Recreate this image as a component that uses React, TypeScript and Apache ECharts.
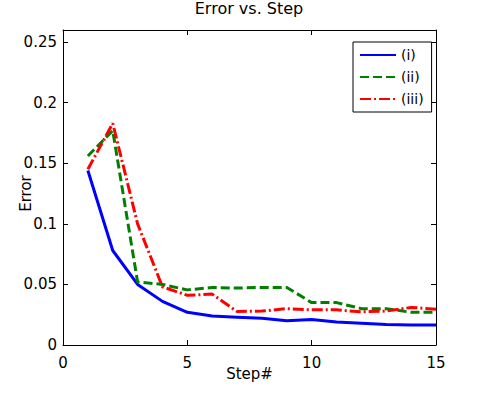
import React, { useEffect, useRef } from "react";
import * as echarts from "echarts";

const steps = [1, 2, 3, 4, 5, 6, 7, 8, 9, 10, 11, 12, 13, 14, 15];
const seriesI = [0.144, 0.078, 0.05, 0.036, 0.027, 0.024, 0.023, 0.022, 0.02, 0.021, 0.019, 0.018, 0.017, 0.0165, 0.0165];
const seriesII = [0.156, 0.177, 0.052, 0.05, 0.0455, 0.0475, 0.047, 0.0475, 0.0475, 0.035, 0.035, 0.03, 0.03, 0.027, 0.027];
const seriesIII = [0.145, 0.183, 0.1, 0.048, 0.041, 0.042, 0.0276, 0.028, 0.03, 0.029, 0.029, 0.0274, 0.028, 0.031, 0.0296];
const names = ["(i)", "(ii)", "(iii)"];

const FONT = "DejaVu Sans, Liberation Sans, Arial, sans-serif";

export default function App() {
  const ref = useRef<HTMLDivElement>(null);
  useEffect(() => {
    if (!ref.current) return;
    const chart = echarts.init(ref.current, undefined, { renderer: "svg" });
    const mk = (arr: number[]) => steps.map((s, i) => [s, arr[i]]);
    const lineBase = {
      type: "line",
      showSymbol: false,
      symbol: "none",
      xAxisIndex: 0,
      yAxisIndex: 0,
    };
    const boxAxisLine = { show: true, onZero: false, lineStyle: { color: "#000", width: 1 } };
    const boxTick = { show: true, inside: true, length: 5, lineStyle: { color: "#000" } };
    chart.setOption({
      animation: false,
      backgroundColor: "#ffffff",
      title: {
        text: "Error vs. Step",
        left: 244,
        textAlign: "center",
        top: 0,
        padding: [0, 5, 5, 5],
        textStyle: { fontFamily: FONT, fontSize: 16, fontWeight: "normal", color: "#000" },
      },
      grid: { left: 63, right: 46, top: 30, bottom: 50, outerBoundsMode: "none", containLabel: false },
      legend: {
        data: names,
        orient: "vertical",
        left: 353,
        top: 42,
        width: 71,
        padding: [6, 8, 6, 6],
        itemGap: 8,
        itemWidth: 36,
        itemHeight: 14,
        borderColor: "#000",
        borderWidth: 1,
        borderRadius: 0,
        backgroundColor: "#fff",
        itemStyle: { opacity: 0, borderWidth: 0 },
        textStyle: { fontFamily: FONT, fontSize: 14, color: "#000" },
      },
      xAxis: [
        {
          type: "value",
          min: 0,
          max: 15,
          interval: 5,
          axisLine: boxAxisLine,
          axisTick: boxTick,
          axisLabel: { color: "#000", fontFamily: FONT, fontSize: 15, margin: 10 },
          splitLine: { show: false },
          name: "Step#",
          nameLocation: "middle",
          nameGap: 21,
          nameMoveOverlap: false,
          nameTextStyle: { fontFamily: FONT, fontSize: 15, color: "#000" },
        },
        {
          type: "value",
          position: "top",
          min: 0,
          max: 15,
          interval: 5,
          axisLine: boxAxisLine,
          axisTick: boxTick,
          axisLabel: { show: false },
          splitLine: { show: false },
        },
      ],
      yAxis: [
        {
          type: "value",
          min: 0,
          max: 0.26,
          interval: 0.05,
          axisLine: boxAxisLine,
          axisTick: boxTick,
          axisLabel: {
            color: "#000",
            fontFamily: FONT,
            fontSize: 15,
            margin: 6,
            showMaxLabel: false,
            formatter: (v: number) => (v > 0.255 ? "" : String(Math.round(v * 100) / 100)),
          },
          splitLine: { show: false },
          name: "Error",
          nameLocation: "middle",
          nameGap: 30,
          nameMoveOverlap: false,
          nameTextStyle: { fontFamily: FONT, fontSize: 15, color: "#000", padding: [0, 12, 0, 0] },
        },
        {
          type: "value",
          position: "right",
          min: 0,
          max: 0.26,
          interval: 0.05,
          axisLine: boxAxisLine,
          axisTick: boxTick,
          axisLabel: { show: false },
          splitLine: { show: false },
        },
      ],
      series: [
        {
          ...lineBase,
          name: names[0],
          data: mk(seriesI),
          color: "#0000ff",
          lineStyle: { color: "#0000ff", width: 3 },
        },
        {
          ...lineBase,
          name: names[1],
          data: mk(seriesII),
          color: "#008000",
          lineStyle: { color: "#008000", width: 3, type: [9, 4], cap: "butt" },
        },
        {
          ...lineBase,
          name: names[2],
          data: mk(seriesIII),
          color: "#ff0000",
          lineStyle: { color: "#ff0000", width: 3, type: [11, 3, 2, 3], cap: "butt" },
        },
      ],
    });
    return () => chart.dispose();
  }, []);
  return <div ref={ref} style={{ width: 482, height: 395, position: "absolute", left: 0, top: 0 }} />;
}
